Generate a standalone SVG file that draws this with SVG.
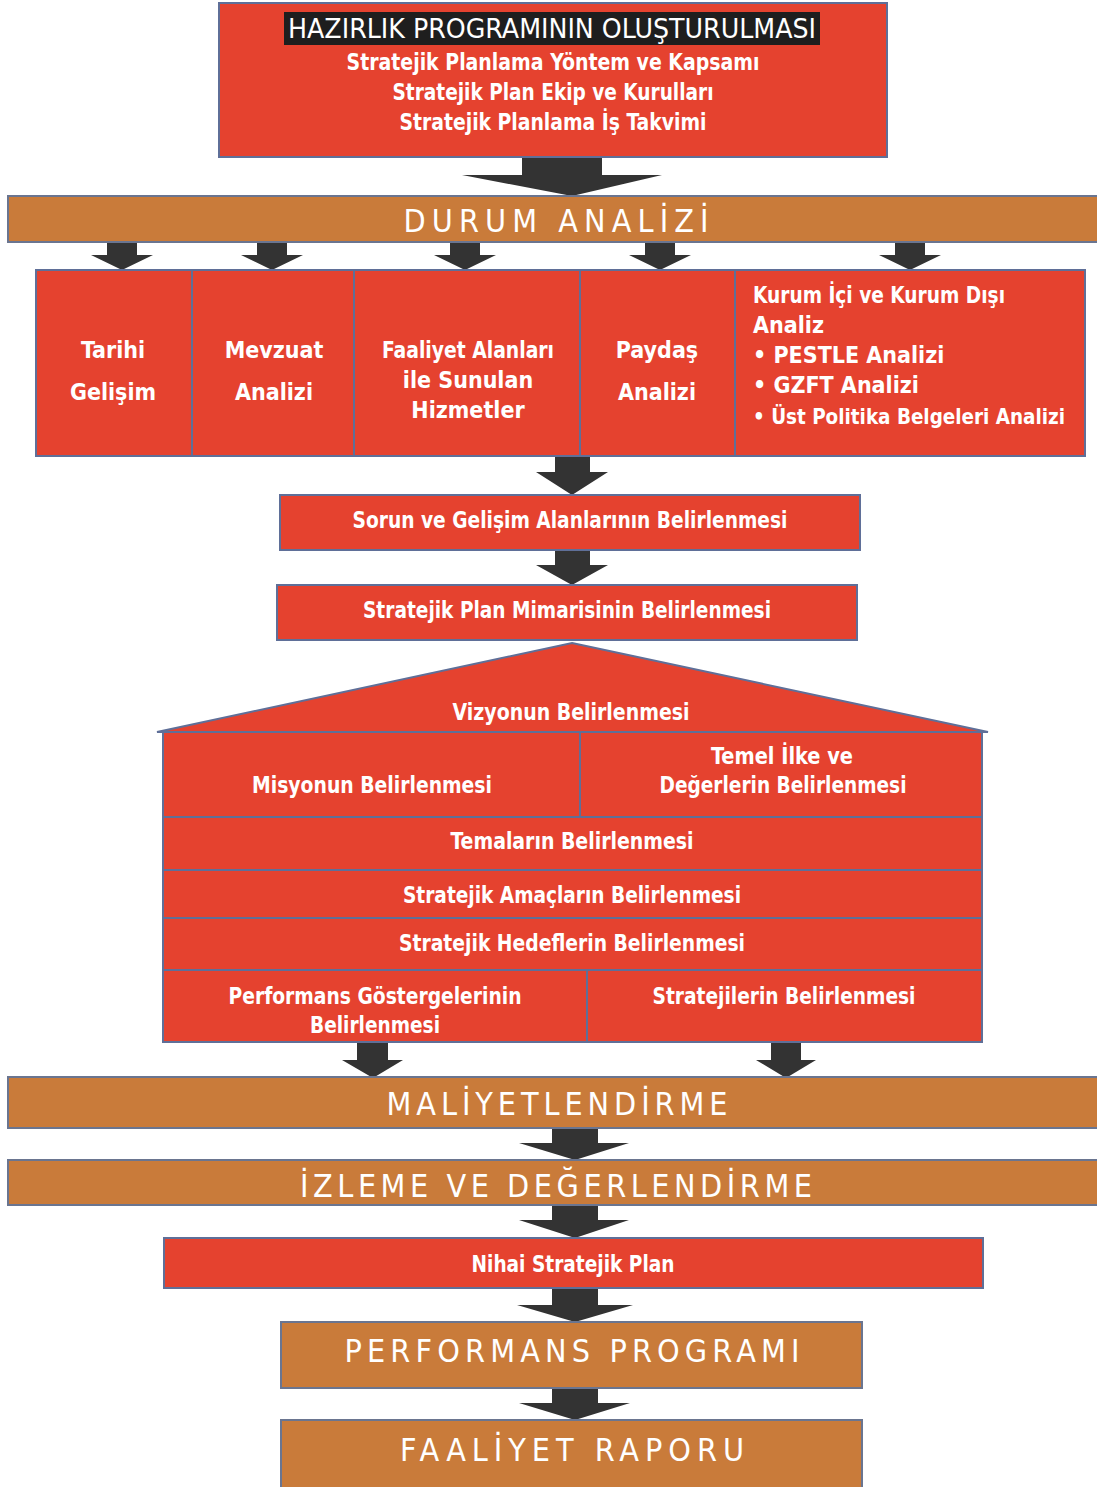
<svg xmlns="http://www.w3.org/2000/svg" width="1097" height="1487" viewBox="0 0 1097 1487">
<style>
.r{fill:#e5422f;stroke:#5f6f98;stroke-width:2}
.o{fill:#c97b3a;stroke:#6a7590;stroke-width:2}
.a{fill:#333333}
.t{font-family:"Liberation Sans Narrow","DejaVu Sans Condensed","Liberation Sans",sans-serif;font-weight:bold;fill:#ffffff;font-size:23px;text-anchor:middle}
.tl{text-anchor:start}
.s{font-family:"DejaVu Sans Condensed","Liberation Sans Narrow","Liberation Sans",sans-serif;font-weight:normal;fill:#ffffff;font-size:32px;text-anchor:middle}
</style>
<rect width="1097" height="1487" fill="#ffffff"/>
<g id="connectors">
<polygon class="a" points="522,157 602,157 602,175 662,175 572,196 462,175 522,175"/>
<polygon class="a" points="107,242 137,242 137,255 153,255 122,270 91,255 107,255"/>
<polygon class="a" points="257,242 287,242 287,255 303,255 272,270 241,255 257,255"/>
<polygon class="a" points="450,242 480,242 480,255 496,255 465,270 434,255 450,255"/>
<polygon class="a" points="645,242 675,242 675,255 691,255 660,270 629,255 645,255"/>
<polygon class="a" points="895,242 925,242 925,255 941,255 910,270 879,255 895,255"/>
<polygon class="a" points="555,456 590,456 590,472 608,472 572,495 536,472 555,472"/>
<polygon class="a" points="555,550 590,550 590,565 608,565 572,585 536,565 555,565"/>
<polygon class="a" points="357,1042 388,1042 388,1060 403,1060 373,1078 342,1060 357,1060"/>
<polygon class="a" points="771,1042 801,1042 801,1060 816,1060 786,1078 756,1060 771,1060"/>
<polygon class="a" points="552,1128 598,1128 598,1143 629,1143 575,1160 519,1143 552,1143"/>
<polygon class="a" points="552,1205 598,1205 598,1220 629,1220 575,1238 519,1220 552,1220"/>
<polygon class="a" points="552,1288 598,1288 598,1305 633,1305 575,1322 517,1305 552,1305"/>
<polygon class="a" points="552,1388 598,1388 598,1403 630,1403 575,1420 519,1403 552,1403"/>
</g>
<g id="hazirlik">
<rect class="r" x="219" y="3" width="668" height="154"/>
<rect x="284" y="12" width="536" height="33" fill="#1e1e1e"/>
<text class="t" x="552" y="38" style="font-weight:normal;font-size:27px" textLength="528" lengthAdjust="spacingAndGlyphs">HAZIRLIK PROGRAMININ OLUŞTURULMASI</text>
<text class="t" x="553" y="70" textLength="413" lengthAdjust="spacingAndGlyphs">Stratejik Planlama Yöntem ve Kapsamı</text>
<text class="t" x="553" y="100" textLength="321" lengthAdjust="spacingAndGlyphs">Stratejik Plan Ekip ve Kurulları</text>
<text class="t" x="553" y="130" textLength="307" lengthAdjust="spacingAndGlyphs">Stratejik Planlama İş Takvimi</text>
</g>
<g id="durum">
<rect class="o" x="8" y="196" width="1095" height="46"/>
<text class="s" x="556" y="232" textLength="305" lengthAdjust="spacing">DURUM  ANALİZİ</text>
</g>
<g id="tarihi">
<rect class="r" x="36" y="270" width="156" height="186"/>
<text class="t" x="113" y="358">Tarihi</text>
<text class="t" x="113" y="400">Gelişim</text>
</g>
<g id="mevzuat">
<rect class="r" x="192" y="270" width="162" height="186"/>
<text class="t" x="274" y="358">Mevzuat</text>
<text class="t" x="274" y="400">Analizi</text>
</g>
<g id="faaliyet">
<rect class="r" x="354" y="270" width="226" height="186"/>
<text class="t" x="468" y="358" textLength="172" lengthAdjust="spacingAndGlyphs">Faaliyet Alanları</text>
<text class="t" x="468" y="388">ile Sunulan</text>
<text class="t" x="468" y="418">Hizmetler</text>
</g>
<g id="paydas">
<rect class="r" x="580" y="270" width="155" height="186"/>
<text class="t" x="657" y="358">Paydaş</text>
<text class="t" x="657" y="400">Analizi</text>
</g>
<g id="kurum">
<rect class="r" x="735" y="270" width="350" height="186"/>
<text class="t tl" x="753" y="303" textLength="252" lengthAdjust="spacingAndGlyphs">Kurum İçi ve Kurum Dışı</text>
<text class="t tl" x="753" y="333">Analiz</text>
<text class="t tl" x="753" y="363">• PESTLE Analizi</text>
<text class="t tl" x="753" y="393">• GZFT Analizi</text>
<text class="t tl" x="753" y="424" style="font-size:21px" textLength="312" lengthAdjust="spacingAndGlyphs">• Üst Politika Belgeleri Analizi</text>
</g>
<g id="sorun">
<rect class="r" x="280" y="495" width="580" height="55"/>
<text class="t" x="570" y="528" textLength="435" lengthAdjust="spacingAndGlyphs">Sorun ve Gelişim Alanlarının Belirlenmesi</text>
</g>
<g id="mimari">
<rect class="r" x="277" y="585" width="580" height="55"/>
<text class="t" x="567" y="618" textLength="408" lengthAdjust="spacingAndGlyphs">Stratejik Plan Mimarisinin Belirlenmesi</text>
</g>
<g id="vizyon">
<polygon class="r" points="572,643 988,732 157,732"/>
<text class="t" x="571" y="720" textLength="237" lengthAdjust="spacingAndGlyphs">Vizyonun Belirlenmesi</text>
</g>
<g id="misyon">
<rect class="r" x="163" y="732" width="417" height="85"/>
<text class="t" x="372" y="793" textLength="240" lengthAdjust="spacingAndGlyphs">Misyonun Belirlenmesi</text>
</g>
<g id="temel">
<rect class="r" x="580" y="732" width="402" height="85"/>
<text class="t" x="782" y="764" textLength="142" lengthAdjust="spacingAndGlyphs">Temel İlke ve</text>
<text class="t" x="783" y="793" textLength="247" lengthAdjust="spacingAndGlyphs">Değerlerin Belirlenmesi</text>
</g>
<g id="temalar">
<rect class="r" x="163" y="817" width="819" height="53"/>
<text class="t" x="572" y="849" textLength="243" lengthAdjust="spacingAndGlyphs">Temaların Belirlenmesi</text>
</g>
<g id="amaclar">
<rect class="r" x="163" y="870" width="819" height="48"/>
<text class="t" x="572" y="903" textLength="338" lengthAdjust="spacingAndGlyphs">Stratejik Amaçların Belirlenmesi</text>
</g>
<g id="hedefler">
<rect class="r" x="163" y="918" width="819" height="52"/>
<text class="t" x="572" y="951" textLength="346" lengthAdjust="spacingAndGlyphs">Stratejik Hedeflerin Belirlenmesi</text>
</g>
<g id="performans-gostergeleri">
<rect class="r" x="163" y="970" width="424" height="72"/>
<text class="t" x="375" y="1004" textLength="293" lengthAdjust="spacingAndGlyphs">Performans Göstergelerinin</text>
<text class="t" x="375" y="1033" textLength="130" lengthAdjust="spacingAndGlyphs">Belirlenmesi</text>
</g>
<g id="stratejiler">
<rect class="r" x="587" y="970" width="395" height="72"/>
<text class="t" x="784" y="1004" textLength="263" lengthAdjust="spacingAndGlyphs">Stratejilerin Belirlenmesi</text>
</g>
<g id="maliyet">
<rect class="o" x="8" y="1077" width="1095" height="51"/>
<text class="s" x="557" y="1115" textLength="341" lengthAdjust="spacing">MALİYETLENDİRME</text>
</g>
<g id="izleme">
<rect class="o" x="8" y="1160" width="1095" height="45"/>
<text class="s" x="556" y="1197" textLength="512" lengthAdjust="spacing">İZLEME VE DEĞERLENDİRME</text>
</g>
<g id="nihai">
<rect class="r" x="164" y="1238" width="819" height="50"/>
<text class="t" x="573" y="1272" textLength="203" lengthAdjust="spacingAndGlyphs">Nihai Stratejik Plan</text>
</g>
<g id="performans-programi">
<rect class="o" x="281" y="1322" width="581" height="66"/>
<text class="s" x="572" y="1362" textLength="455" lengthAdjust="spacing">PERFORMANS  PROGRAMI</text>
</g>
<g id="faaliyet-raporu">
<rect class="o" x="281" y="1420" width="581" height="70"/>
<text class="s" x="572" y="1461" textLength="344" lengthAdjust="spacing">FAALİYET  RAPORU</text>
</g>
</svg>
